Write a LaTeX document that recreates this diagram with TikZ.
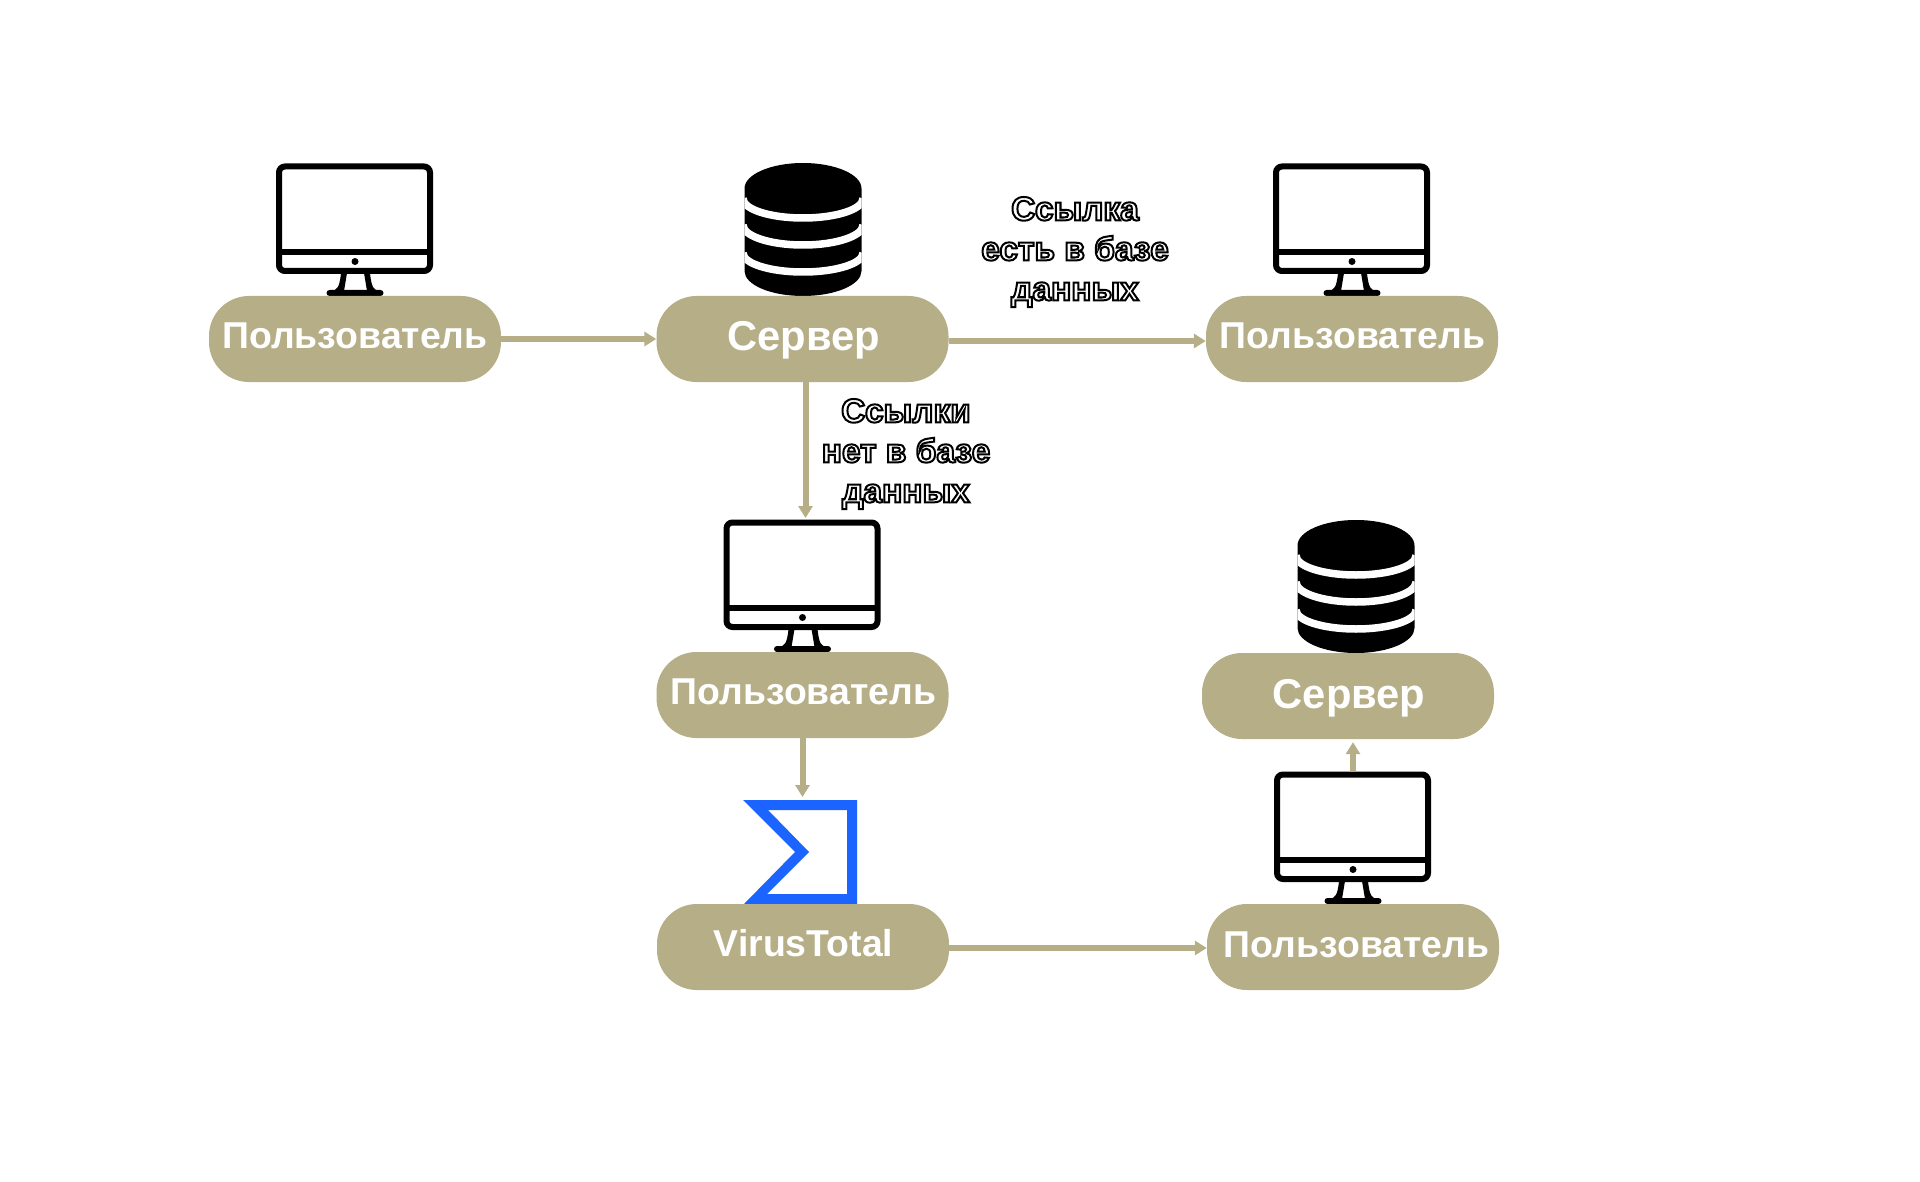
\documentclass[tikz,border=0pt]{standalone}
\usepackage{fontspec}
\setmainfont{Liberation Sans}
\definecolor{khaki}{RGB}{181,174,135}
\definecolor{vtblue}{RGB}{27,100,255}
\newcommand{\outl}[1]{\special{pdf:code q 0 0 0 RG 1 1 1 rg 2 Tr 2 w}#1\special{pdf:code Q}}
\usetikzlibrary{arrows.meta}
\tikzset{
  x=1pt,y=-1pt,
  pill/.style={fill=khaki,rounded corners=40pt,minimum width=292pt,minimum height=86pt,inner sep=0pt,
    text=white,font=\fontsize{37.4}{40}\selectfont\bfseries,text depth=9pt,text height=#1},
  pill/.default=28pt,
  srvtext/.style={font=\fontsize{41.7}{44}\selectfont\bfseries},
  outlined/.style={font=\fontsize{33.5}{40}\selectfont\bfseries,align=center,inner sep=0pt,text=white},
  conn/.style={draw=khaki,line width=6pt,-{Triangle[length=12pt,width=14pt]}},
  monitor/.pic={
    \fill[black,rounded corners=3pt] (-28.5,-6) rectangle (28.5,0);
    \fill[black] (-14,-23) -- (-8,-23) -- (-11,-5) -- (-24,-5) .. controls (-18,-6) and (-15.5,-8) .. (-14,-23) -- cycle;
    \fill[black] (15,-23) -- (9,-23) -- (12,-5) -- (24,-5) .. controls (19,-6) and (16.5,-8) .. (15,-23) -- cycle;
    \draw[black,line width=6pt,rounded corners=6pt,fill=white] (-76,-129.5) rectangle (75,-25);
    \draw[black,line width=6pt] (-76,-44) -- (75,-44);
    \fill[black] (0,-34.5) circle (3.5);
    \coordinate (-top) at (0,-132);
  },
  dbicon/.pic={
    \fill[black] (-58.5,-107.5) arc[x radius=58.5,y radius=25.5,start angle=180,end angle=360] -- (58.5,-25)
      arc[x radius=58.5,y radius=25,start angle=0,end angle=180] -- cycle;
    \begin{scope}
      \clip (-58.5,-133) rectangle (58.5,0);
      \foreach \c/\r in {-97.5/19.5,-71/20,-43/19}{
        \draw[white,line width=7.5pt] (-60,\c) arc[x radius=60,y radius=\r,start angle=180,end angle=0];
      }
    \end{scope}
  },
}
\begin{document}
\begin{tikzpicture}
\useasboundingbox (0,0) rectangle (1920,1182);
\fill[white] (0,0) rectangle (1920,1182);

\pic at (355,296) {monitor};
\pic at (803,296) {dbicon};
\pic at (1352,296) {monitor};
\pic at (802.5,652) {monitor};
\pic at (1356,653) {dbicon};
\pic (m4) at (1353,904) {monitor};
\fill[vtblue,even odd rule] (743,800) -- (857,800) -- (857,904) -- (744,904) -- (795,852) -- cycle
  (768,810) -- (847,810) -- (847,894) -- (767,894) -- (809,852) -- cycle;

\node[pill] (p1) at (355,339) {Пользователь};
\node[pill=32pt,srvtext] (s1) at (802.5,339) {\hspace*{2pt}Сервер};
\node[pill] (p2) at (1352,339) {\hspace*{1pt}Пользователь};
\node[pill=28pt] (p3) at (802.5,695) {\hspace*{2pt}Пользователь};
\node[pill=33pt,srvtext] (s2) at (1348,696) {\hspace*{2pt}Сервер};
\node[pill=27pt] (vt) at (803,947) {\hspace*{1pt}VirusTotal};
\node[pill=30pt] (p4) at (1353,947) {\hspace*{7pt}Пользователь};

\draw[conn] (p1.east) -- (s1.west);
\draw[conn] ([yshift=-2pt]s1.east) -- ([yshift=-2pt]p2.west);
\draw[conn] ([xshift=3pt]s1.south) -- ([xshift=3pt]s1.south |- 0,518);
\draw[conn] (p3.south) -- (p3.south |- 0,797);
\draw[conn] ([yshift=-1pt]vt.east) -- ([yshift=-1pt]p4.west);
\draw[conn,shorten >=3pt] (m4-top) -- (s2.south -| m4-top);

\node[outlined] (l1) at (1075,252) {\outl{Ссылка\\есть в базе\\данных}};
\node[outlined] (l2) at (906,454) {\outl{Ссылки\\нет в базе\\данных}};
\end{tikzpicture}
\end{document}
